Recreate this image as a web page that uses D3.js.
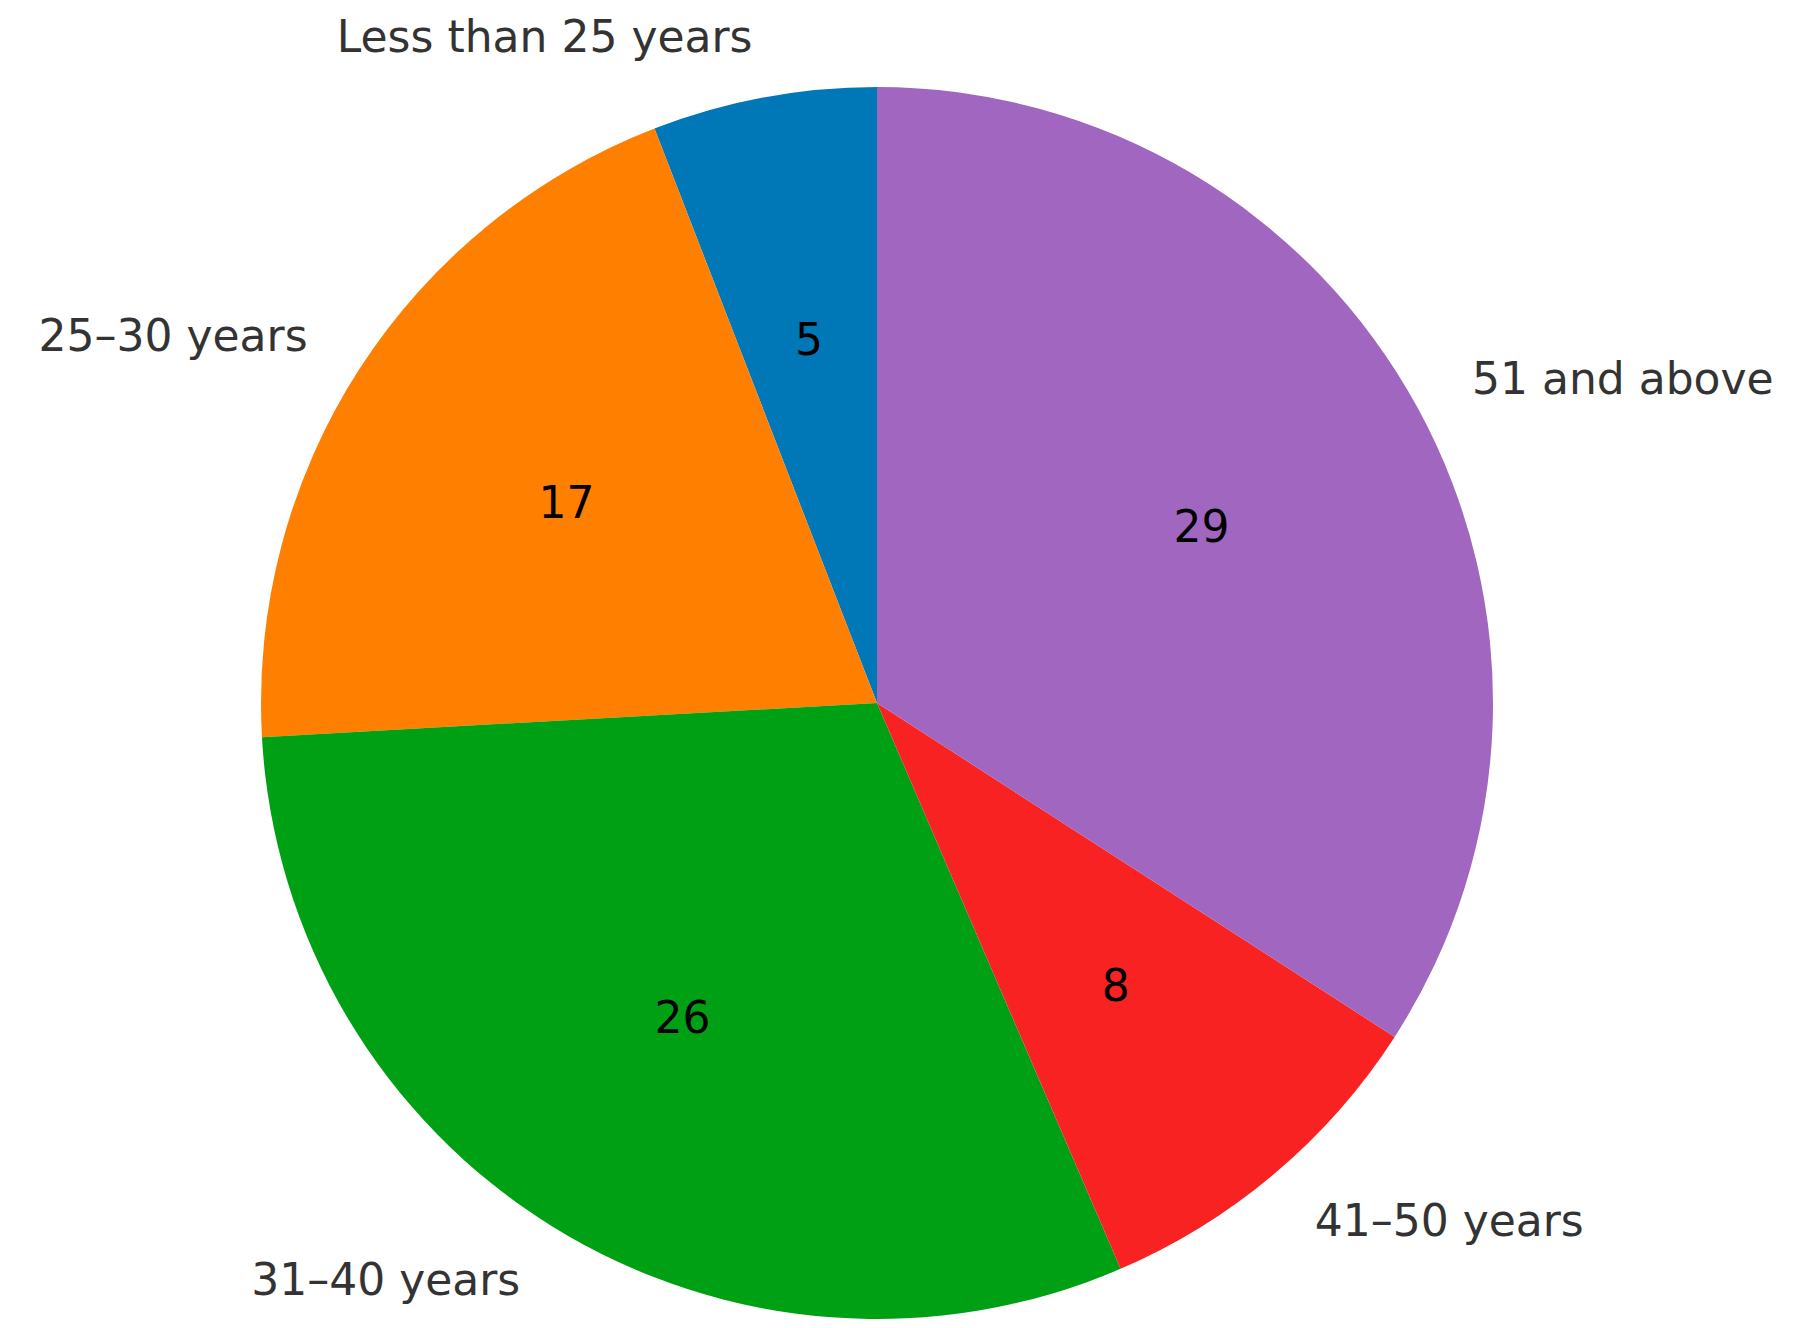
<!DOCTYPE html>
<html><head><meta charset="utf-8">
<script src="https://cdn.jsdelivr.net/npm/d3@7"></script>
<style>body{margin:0;background:#fff}</style></head>
<body><svg id="c" width="1815" height="1328"></svg>
<script>
const categories = ["Less than 25 years","25–30 years","31–40 years","41–50 years","51 and above"];
const values = [5,17,26,8,29];
const colors = ["#0077b7","#ff7f00","#00a014","#f82222","#a066c0"];

const svg = d3.select("#c");
const cx = 877, cy = 703, R = 616;
const g = svg.append("g").attr("transform",`translate(${cx},${cy})`);
const pie = d3.pie().sort(null).startAngle(0).endAngle(-2*Math.PI);
const arcs = pie(values);
const arc = d3.arc().innerRadius(0).outerRadius(R);
g.selectAll("path").data(arcs).join("path")
  .attr("d",arc).attr("fill",(d,i)=>colors[i]);
const font = "DejaVu Sans, sans-serif";
arcs.forEach((d,i)=>{
  const a = (d.startAngle+d.endAngle)/2;
  const sx = Math.sin(a), sy = -Math.cos(a);
  g.append("text").attr("x",0.6*R*sx).attr("y",0.6*R*sy)
    .attr("text-anchor","middle").attr("dominant-baseline","central")
    .attr("font-family",font).attr("font-size",44).attr("fill","#000").text(values[i]);
  g.append("text").attr("x",1.1*R*sx).attr("y",1.1*R*sy)
    .attr("text-anchor", sx<0?"end":"start").attr("dominant-baseline","central")
    .attr("font-family",font).attr("font-size",44).attr("fill","#333").text(categories[i]);
});
</script></body></html>
